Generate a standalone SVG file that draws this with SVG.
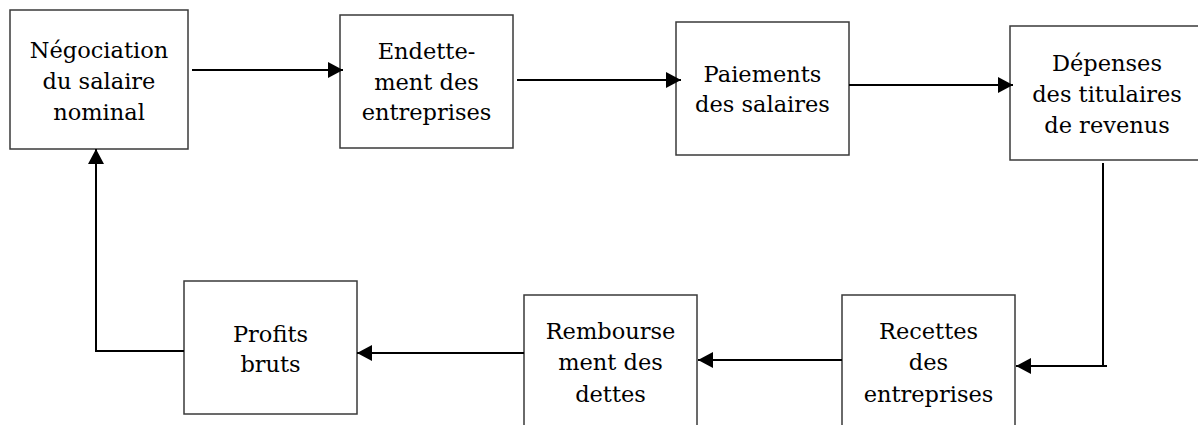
<svg xmlns="http://www.w3.org/2000/svg" width="1198" height="425" viewBox="0 0 1198 425">
<style>
.box{fill:#fff;stroke:#3a3a3a;stroke-width:1.5}
.lbl{font-family:"DejaVu Serif","Liberation Serif",serif;font-size:22.5px;fill:#000;text-anchor:middle}
.con{fill:none;stroke:#000;stroke-width:2}
</style>
<defs>
<marker id="ah" markerUnits="userSpaceOnUse" markerWidth="16" markerHeight="16" refX="15" refY="8" orient="auto">
<path d="M0,0 L15,8 L0,16 z" fill="#000"/>
</marker>
</defs>
<rect width="1198" height="425" fill="#fff"/>
<g id="n1"><rect class="box" x="10" y="10" width="178" height="139"/>
<text class="lbl" x="99" y="58">Négociation</text><text class="lbl" x="99" y="89">du salaire</text><text class="lbl" x="99" y="120">nominal</text></g>
<g id="n2"><rect class="box" x="340" y="15" width="173" height="133"/>
<text class="lbl" x="426.5" y="59">Endette-</text><text class="lbl" x="426.5" y="90">ment des</text><text class="lbl" x="426.5" y="120">entreprises</text></g>
<g id="n3"><rect class="box" x="676" y="22" width="173" height="133"/>
<text class="lbl" x="762.5" y="82">Paiements</text><text class="lbl" x="762.5" y="112">des salaires</text></g>
<g id="n4"><rect class="box" x="1010" y="26" width="195" height="134"/>
<text class="lbl" x="1107" y="71">Dépenses</text><text class="lbl" x="1107" y="102">des titulaires</text><text class="lbl" x="1107" y="133">de revenus</text></g>
<g id="n5"><rect class="box" x="184" y="281" width="173" height="133"/>
<text class="lbl" x="270.5" y="342">Profits</text><text class="lbl" x="270.5" y="372">bruts</text></g>
<g id="n6"><rect class="box" x="524" y="295" width="173" height="140"/>
<text class="lbl" x="610.5" y="339">Rembourse</text><text class="lbl" x="610.5" y="370">ment des</text><text class="lbl" x="610.5" y="402">dettes</text></g>
<g id="n7"><rect class="box" x="842" y="295" width="173" height="140"/>
<text class="lbl" x="928.5" y="339">Recettes</text><text class="lbl" x="928.5" y="370">des</text><text class="lbl" x="928.5" y="402">entreprises</text></g>
<g id="connectors">
<path class="con" d="M192,70 H343" marker-end="url(#ah)"/>
<path class="con" d="M517,80 H681" marker-end="url(#ah)"/>
<path class="con" d="M849,85 H1013" marker-end="url(#ah)"/>
<path class="con" d="M1103,163 V366 M1107,366 H1016" marker-end="url(#ah)"/>
<path class="con" d="M842,360 H698" marker-end="url(#ah)"/>
<path class="con" d="M524,353 H357" marker-end="url(#ah)"/>
<path class="con" d="M184,351 H96 V149" marker-end="url(#ah)"/>
</g>
</svg>
